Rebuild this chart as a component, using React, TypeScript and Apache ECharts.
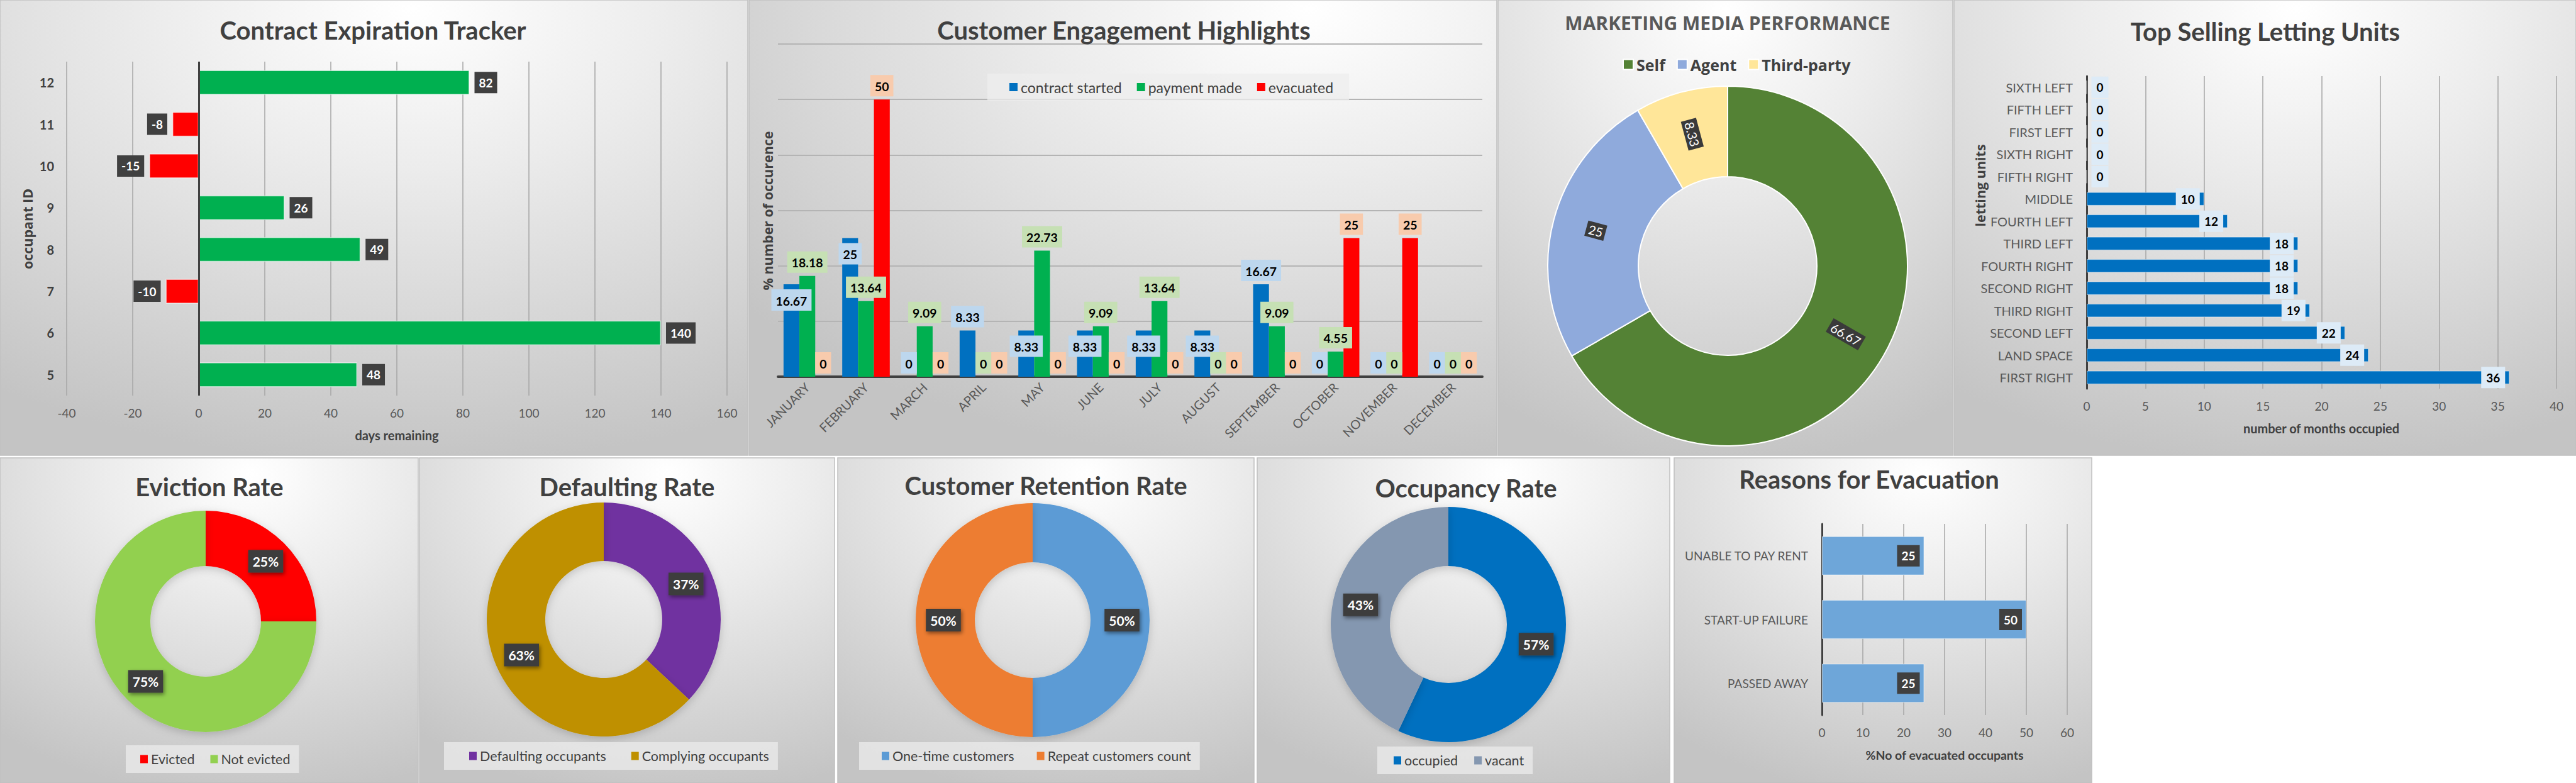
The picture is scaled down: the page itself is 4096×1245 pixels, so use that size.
import React, { useEffect, useRef } from 'react';
import * as echarts from 'echarts';

const W = 4096;
const H = 1245;

// ---------- Contract Expiration Tracker ----------
const occupantIds = ['5', '6', '7', '8', '9', '10', '11', '12'];
const daysRemaining = [48, 140, -10, 49, 26, -15, -8, 82];

// ---------- Customer Engagement Highlights ----------
const months = ['JANUARY', 'FEBRUARY', 'MARCH', 'APRIL', 'MAY', 'JUNE', 'JULY', 'AUGUST', 'SEPTEMBER', 'OCTOBER', 'NOVEMBER', 'DECEMBER'];
const contractStarted = [16.67, 25, 0, 8.33, 8.33, 8.33, 8.33, 8.33, 16.67, 0, 0, 0];
const paymentMade = [18.18, 13.64, 9.09, 0, 22.73, 9.09, 13.64, 0, 9.09, 4.55, 0, 0];
const evacuated = [0, 50, 0, 0, 0, 0, 0, 0, 0, 25, 25, 0];
const engagementSeriesNames = ['contract started', 'payment made', 'evacuated'];

// ---------- Marketing Media Performance ----------
const mediaNames = ['Self', 'Agent', 'Third-party'];
const mediaValues = [66.67, 25, 8.33];

// ---------- Top Selling Letting Units ----------
const lettingUnits = ['FIRST RIGHT', 'LAND SPACE', 'SECOND LEFT', 'THIRD RIGHT', 'SECOND RIGHT', 'FOURTH RIGHT', 'THIRD LEFT', 'FOURTH LEFT', 'MIDDLE', 'FIFTH RIGHT', 'SIXTH RIGHT', 'FIRST LEFT', 'FIFTH LEFT', 'SIXTH LEFT'];
const monthsOccupied = [36, 24, 22, 19, 18, 18, 18, 12, 10, 0, 0, 0, 0, 0];

// ---------- Rates (percent) ----------
const evictionNames = ['Evicted', 'Not evicted'];
const evictionValues = [25, 75];
const defaultingNames = ['Defaulting occupants', 'Complying occupants'];
const defaultingValues = [37, 63];
const retentionNames = ['One-time customers', 'Repeat customers count'];
const retentionValues = [50, 50];
const occupancyNames = ['occupied', 'vacant'];
const occupancyValues = [57, 43];

// ---------- Reasons for Evacuation ----------
const reasons = ['PASSED AWAY', 'START-UP FAILURE', 'UNABLE TO PAY RENT'];
const reasonValues = [25, 50, 25];

// ---------- styling ----------
const TITLE_FONT = 'bold 40px Lato';
const TITLE_COLOR = '#404040';
const AXIS_TXT = '#595959';
const GRID_LINE = '#a6a6a6';

function panelRect(x: number, y: number, w: number, h: number, cx = 0.55, cy = 0.02) {
  return {
    type: 'rect',
    z: -10,
    silent: true,
    shape: { x, y, width: w, height: h },
    style: {
      fill: new echarts.graphic.RadialGradient(cx, cy, 1.0, [
        { offset: 0, color: '#ffffff' },
        { offset: 0.35, color: '#ececec' },
        { offset: 1, color: '#c4c4c4' },
      ]),
      stroke: '#c0c0c0',
      lineWidth: 1.5,
    },
  };
}

function txt(text: string, x: number, y: number, font: string, fill: string, rotation = 0) {
  return {
    type: 'text',
    z: 50,
    x,
    y,
    rotation,
    silent: true,
    style: { text, font, fill, textAlign: 'center', textVerticalAlign: 'middle' },
  };
}

const darkLabel = {
  show: true,
  color: '#ffffff',
  fontWeight: 'bold',
  fontSize: 19,
  backgroundColor: '#404040',
  padding: [8, 7, 7, 7],
};

function pieLabel() {
  return {
    show: true,
    position: 'inside',
    formatter: '{c}%',
    color: '#ffffff',
    fontWeight: 'bold',
    fontSize: 21,
    backgroundColor: '#3d3d3d',
    padding: [8, 7, 7, 7],
    shadowColor: 'rgba(0,0,0,0.45)',
    shadowBlur: 6,
    shadowOffsetX: 2,
    shadowOffsetY: 3,
  };
}

function ratePie(names: string[], values: number[], colors: string[], center: number[], radius: number[]) {
  return {
    type: 'pie',
    center,
    radius,
    startAngle: 90,
    clockwise: true,
    avoidLabelOverlap: false,
    labelLine: { show: false },
    label: pieLabel(),
    itemStyle: { shadowBlur: 14, shadowColor: 'rgba(0,0,0,0.18)', shadowOffsetY: 4 },
    emphasis: { disabled: true },
    data: names.map((n, i) => ({ name: n, value: values[i], itemStyle: { color: colors[i] } })),
  };
}

function bottomLegend(names: string[], left: number, top: number, padL: number, gap: number) {
  return {
    data: names,
    left,
    top,
    orient: 'horizontal',
    icon: 'rect',
    itemWidth: 12,
    itemHeight: 13,
    itemGap: gap,
    padding: [11, 14, 11, padL],
    backgroundColor: 'rgba(232,232,232,0.85)',
    textStyle: { fontSize: 21.5, color: '#404040', fontFamily: 'Lato' },
    selectedMode: false,
  };
}

const blueLabelBelow = new Set(['JANUARY', 'FEBRUARY', 'MAY', 'JUNE', 'JULY', 'AUGUST']);

function engagementLabel(bg: string) {
  return {
    show: true,
    position: 'top',
    distance: 5,
    color: '#000000',
    fontWeight: 'bold',
    fontSize: 19.5,
    backgroundColor: bg,
    padding: [8, 7, 6, 7],
  };
}

function buildOption() {
  const graphics: any[] = [
    // top row panels
    panelRect(0, 0, 1189, 724),
    panelRect(1191, 0, 1189, 724, 0.75, 0.02),
    panelRect(2382, 0, 723, 724, 0.5, 0.02),
    panelRect(3107, 0, 989, 724),
    // bottom row panels
    panelRect(0, 728, 665, 517, 0.6, 0.05),
    panelRect(667, 728, 660, 517, 0.6, 0.05),
    panelRect(1332, 728, 662, 517, 0.6, 0.05),
    panelRect(1999, 728, 656, 517, 0.6, 0.05),
    panelRect(2662, 728, 664, 517, 0.6, 0.05),
    // titles
    txt('Contract Expiration Tracker', 593, 48, TITLE_FONT, TITLE_COLOR),
    txt('Customer Engagement Highlights', 1787, 48, TITLE_FONT, TITLE_COLOR),
    txt('MARKETING MEDIA PERFORMANCE', 2747, 36, 'bold 30px "Open Sans"', '#595959'),
    txt('Top Selling Letting Units', 3602, 50, TITLE_FONT, TITLE_COLOR),
    txt('Eviction Rate', 333, 774, TITLE_FONT, TITLE_COLOR),
    txt('Defaulting Rate', 997, 774, TITLE_FONT, TITLE_COLOR),
    txt('Customer Retention Rate', 1663, 772, TITLE_FONT, TITLE_COLOR),
    txt('Occupancy Rate', 2331, 776, TITLE_FONT, TITLE_COLOR),
    txt('Reasons for Evacuation', 2972, 762, TITLE_FONT, TITLE_COLOR),
    // axis names
    txt('occupant ID', 43, 364, 'bold 21.5px "Open Sans"', '#404040', Math.PI / 2),
    txt('days remaining', 631, 692, 'bold 20px Lato', '#404040'),
    txt('% number of occurence', 1220, 335, 'bold 21.5px "Open Sans"', '#404040', Math.PI / 2),
    txt('letting units', 3148, 295, 'bold 21.5px "Open Sans"', '#404040', Math.PI / 2),
    txt('number of months occupied', 3691, 681, 'bold 20px Lato', '#404040'),
    txt('%No of evacuated occupants', 3092, 1200, 'bold 19.5px Lato', '#404040'),
  ];

  const valueAxisCommon = {
    type: 'value',
    axisLine: { show: false },
    axisTick: { show: false },
    axisLabel: { fontSize: 19, color: AXIS_TXT, margin: 18 },
    splitLine: { show: true, lineStyle: { color: GRID_LINE, width: 1.5 } },
  };

  return {
    animation: false,
    textStyle: { fontFamily: 'Lato' },
    graphic: { elements: graphics },
    grid: [
      { left: 106, top: 98, width: 1050, height: 531 },
      { left: 1237, top: 70, width: 1120, height: 529 },
      { left: 3318, top: 121, width: 747, height: 497 },
      { left: 2897, top: 833, width: 390, height: 304 },
    ],
    xAxis: [
      { ...valueAxisCommon, gridIndex: 0, min: -40, max: 160, interval: 20 },
      {
        type: 'category',
        gridIndex: 1,
        data: months,
        axisLine: { show: true, lineStyle: { color: '#404040', width: 4 } },
        axisTick: { show: false },
        axisLabel: { rotate: 45, fontSize: 20, color: AXIS_TXT, margin: 13, interval: 0 },
      },
      { ...valueAxisCommon, gridIndex: 2, min: 0, max: 40, interval: 5 },
      { ...valueAxisCommon, gridIndex: 3, min: 0, max: 60, interval: 10 },
    ],
    yAxis: [
      {
        type: 'category',
        gridIndex: 0,
        data: occupantIds,
        axisLine: { show: false },
        axisTick: { show: false },
        axisLabel: { fontSize: 20, fontWeight: 'bold', color: '#404040', margin: 20 },
      },
      {
        type: 'value',
        gridIndex: 1,
        min: 0,
        max: 60,
        interval: 10,
        axisLine: { show: false },
        axisTick: { show: false },
        axisLabel: { show: false },
        splitLine: { show: true, lineStyle: { color: '#b4b4b4', width: 2 } },
      },
      {
        type: 'category',
        gridIndex: 2,
        data: lettingUnits,
        axisLine: { show: true, lineStyle: { color: '#404040', width: 3 } },
        axisTick: { show: false },
        axisLabel: { fontSize: 20, color: AXIS_TXT, margin: 22, interval: 0 },
      },
      {
        type: 'category',
        gridIndex: 3,
        data: reasons,
        axisLine: { show: true, lineStyle: { color: '#404040', width: 3 } },
        axisTick: { show: false },
        axisLabel: { fontSize: 19, color: AXIS_TXT, margin: 22 },
      },
    ],
    legend: [
      {
        data: engagementSeriesNames,
        left: 1570,
        top: 117,
        icon: 'rect',
        itemWidth: 13,
        itemHeight: 13,
        itemGap: 24,
        padding: [10, 25, 10, 35],
        backgroundColor: 'rgba(238,238,238,0.75)',
        textStyle: { fontSize: 23, color: '#404040', fontFamily: 'Lato' },
        selectedMode: false,
      },
      {
        data: mediaNames,
        left: 2575,
        top: 85,
        icon: 'rect',
        itemWidth: 16,
        itemHeight: 16,
        itemGap: 18,
        textStyle: { fontSize: 25, fontWeight: 'bold', color: '#404040', fontFamily: 'Open Sans' },
        selectedMode: false,
      },
      bottomLegend(evictionNames, 200, 1185, 23, 25),
      bottomLegend(defaultingNames, 706, 1180, 40, 40),
      bottomLegend(retentionNames, 1366, 1180, 36, 36),
      bottomLegend(occupancyNames, 2190, 1187, 26, 26),
    ],
    series: [
      // Contract Expiration Tracker
      {
        type: 'bar',
        xAxisIndex: 0,
        yAxisIndex: 0,
        barCategoryGap: '41%',
        data: daysRemaining.map((v) => ({
          value: v,
          itemStyle: { color: v >= 0 ? '#00B050' : '#FF0000', borderColor: 'rgba(255,255,255,0.55)', borderWidth: 1.5 },
          label: { position: v >= 0 ? 'right' : 'left' },
        })),
        label: { ...darkLabel, distance: 8 },
        markLine: {
          silent: true,
          symbol: 'none',
          label: { show: false },
          lineStyle: { color: '#404040', width: 3, type: 'solid' },
          data: [{ xAxis: 0 }],
        },
        emphasis: { disabled: true },
      },
      // Customer Engagement Highlights
      {
        type: 'bar',
        name: engagementSeriesNames[0],
        xAxisIndex: 1,
        yAxisIndex: 1,
        barGap: '0%',
        barCategoryGap: '19%',
        itemStyle: { color: '#0070C0' },
        label: engagementLabel('#BDD7EE'),
        data: contractStarted.map((v, i) => ({
          value: v,
          label: v > 0 && blueLabelBelow.has(months[i]) ? { offset: [0, 47] } : {},
        })),
        emphasis: { disabled: true },
      },
      {
        type: 'bar',
        name: engagementSeriesNames[1],
        xAxisIndex: 1,
        yAxisIndex: 1,
        barGap: '0%',
        barCategoryGap: '19%',
        itemStyle: { color: '#00B050' },
        label: engagementLabel('#C6E0B4'),
        data: paymentMade,
        emphasis: { disabled: true },
      },
      {
        type: 'bar',
        name: engagementSeriesNames[2],
        xAxisIndex: 1,
        yAxisIndex: 1,
        barGap: '0%',
        barCategoryGap: '19%',
        itemStyle: { color: '#FF0000' },
        label: engagementLabel('#F8CBAD'),
        data: evacuated,
        emphasis: { disabled: true },
      },
      // Marketing media
      {
        type: 'pie',
        center: [2747, 423],
        radius: [142, 286],
        startAngle: 90,
        clockwise: true,
        avoidLabelOverlap: false,
        labelLine: { show: false },
        itemStyle: { borderColor: '#ffffff', borderWidth: 2 },
        label: {
          show: true,
          position: 'inside',
          rotate: 'radial',
          formatter: '{c}',
          color: '#ffffff',
          fontSize: 20,
          backgroundColor: '#3a3a3a',
          padding: [3, 4, 2, 4],
        },
        emphasis: { disabled: true },
        data: mediaNames.map((n, i) => ({
          name: n,
          value: mediaValues[i],
          itemStyle: { color: ['#548235', '#8FAADC', '#FFE699'][i] },
        })),
      },
      // Top Selling Letting Units
      {
        type: 'bar',
        xAxisIndex: 2,
        yAxisIndex: 2,
        barCategoryGap: '40%',
        itemStyle: { color: '#0070C0', borderColor: 'rgba(255,255,255,0.5)', borderWidth: 1 },
        label: {
          show: true,
          color: '#000000',
          fontWeight: 'bold',
          fontSize: 19,
          backgroundColor: '#DDEBF7',
          padding: [8, 8, 7, 8],
          distance: 7,
        },
        data: monthsOccupied.map((v) => ({
          value: v,
          label: { position: v === 0 ? 'right' : 'insideRight', distance: v === 0 ? 7 : 7 },
        })),
        emphasis: { disabled: true },
      },
      // Reasons for evacuation
      {
        type: 'bar',
        xAxisIndex: 3,
        yAxisIndex: 3,
        barCategoryGap: '39%',
        itemStyle: { color: '#6EA6D9', borderColor: 'rgba(255,255,255,0.5)', borderWidth: 1 },
        label: { ...darkLabel, position: 'insideRight', distance: 7 },
        data: reasonValues,
        emphasis: { disabled: true },
      },
      // Rate donuts
      ratePie(evictionNames, evictionValues, ['#FF0000', '#92D050'], [327, 988], [88, 176]),
      ratePie(defaultingNames, defaultingValues, ['#7030A0', '#BF9000'], [960, 985], [93, 186]),
      ratePie(retentionNames, retentionValues, ['#5B9BD5', '#ED7D31'], [1642, 986], [92, 186]),
      ratePie(occupancyNames, occupancyValues, ['#0070C0', '#8497B0'], [2303, 993], [93, 187]),
    ],
  };
}

export default function App() {
  const ref = useRef<HTMLDivElement>(null);
  useEffect(() => {
    if (!ref.current) return;
    const chart = echarts.init(ref.current, undefined, { renderer: 'svg', width: W, height: H });
    chart.setOption(buildOption() as any);
    return () => chart.dispose();
  }, []);
  return (
    <div
      ref={ref}
      style={{ position: 'absolute', left: 0, top: 0, width: W, height: H, background: '#ffffff' }}
    />
  );
}
